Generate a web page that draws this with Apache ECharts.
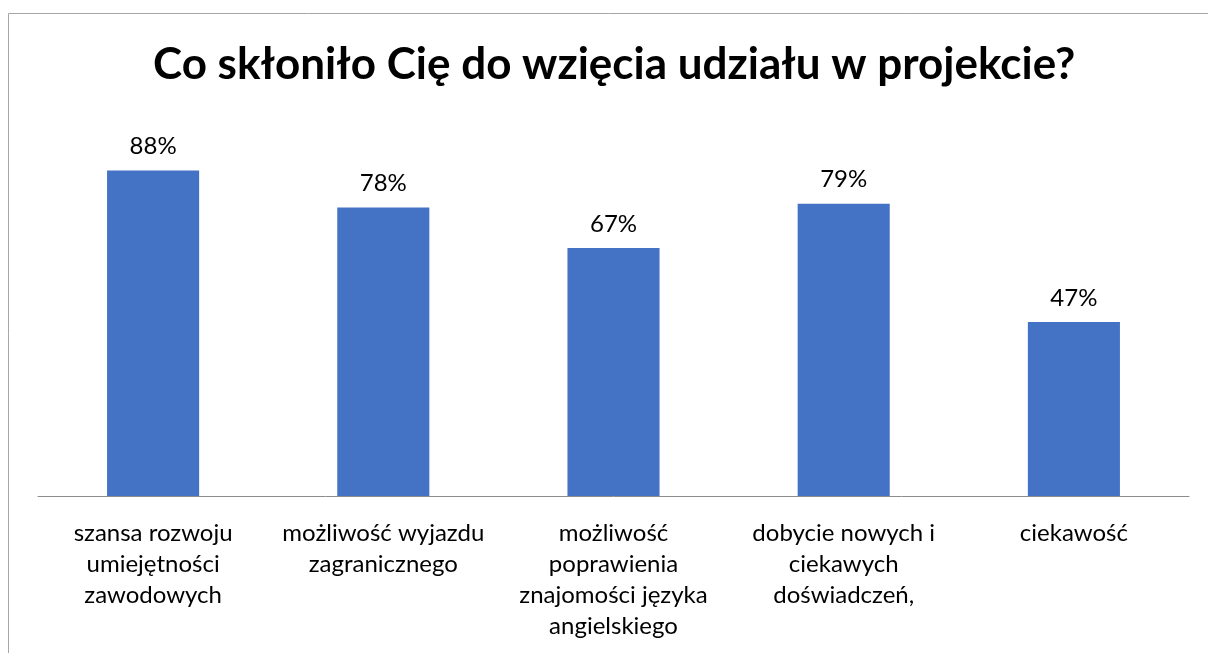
<!DOCTYPE html>
<html>
<head>
<meta charset="utf-8">
<script src="https://cdn.jsdelivr.net/npm/echarts@6/dist/echarts.min.js"></script>
<style>
html, body { margin: 0; padding: 0; background: #fff; }
#main { width: 1208px; height: 653px; }
</style>
</head>
<body>
<div id="main"></div>
<script>
var chartTitle = 'Co skłoniło Cię do wzięcia udziału w projekcie?';
var categories = [
	'szansa rozwoju\numiejętności\nzawodowych',
	'możliwość wyjazdu\nzagranicznego',
	'możliwość\npoprawienia\nznajomości języka\nangielskiego',
	'dobycie nowych i\nciekawych\ndoświadczeń,',
	'ciekawość'
];
var shares = [0.88, 0.78, 0.67, 0.79, 0.47];

var myChart = echarts.init(document.getElementById('main'));

var option = {
	backgroundColor: '#fff',
	animation: false,
	title: {
		text: chartTitle,
		left: 148,
		top: 38,
		padding: 5,
		textStyle: {
			fontFamily: 'Lato',
			fontWeight: 'bold',
			fontSize: 44,
			color: '#000'
		}
	},
	graphic: [
		{
			type: 'rect',
			shape: { x: 8.5, y: 13.5, width: 1400, height: 800 },
			style: { fill: 'none', stroke: '#a6a6a6', lineWidth: 1 },
			silent: true
		}
	],
	grid: {
		left: 38,
		right: 19,
		top: 126,
		bottom: 157
	},
	xAxis: {
		type: 'category',
		data: categories,
		axisLine: { lineStyle: { color: '#8c8c8c', width: 1 } },
		axisTick: { show: false },
		axisLabel: {
			interval: 0,
			margin: 22,
			fontFamily: 'Lato',
			fontSize: 24,
			lineHeight: 31,
			color: '#000'
		}
	},
	yAxis: {
		type: 'value',
		min: 0,
		max: 1,
		show: false,
		splitLine: { show: false }
	},
	series: [
		{
			type: 'bar',
			data: shares,
			barWidth: '40%',
			itemStyle: { color: '#4472C4' },
			label: {
				show: true,
				position: 'top',
				distance: 12,
				fontFamily: 'Lato',
				fontSize: 24,
				color: '#000',
				formatter: function (p) {
					return Math.round(p.value * 100) + '%';
				}
			}
		}
	]
};
myChart.setOption(option);
</script>
</body>
</html>
